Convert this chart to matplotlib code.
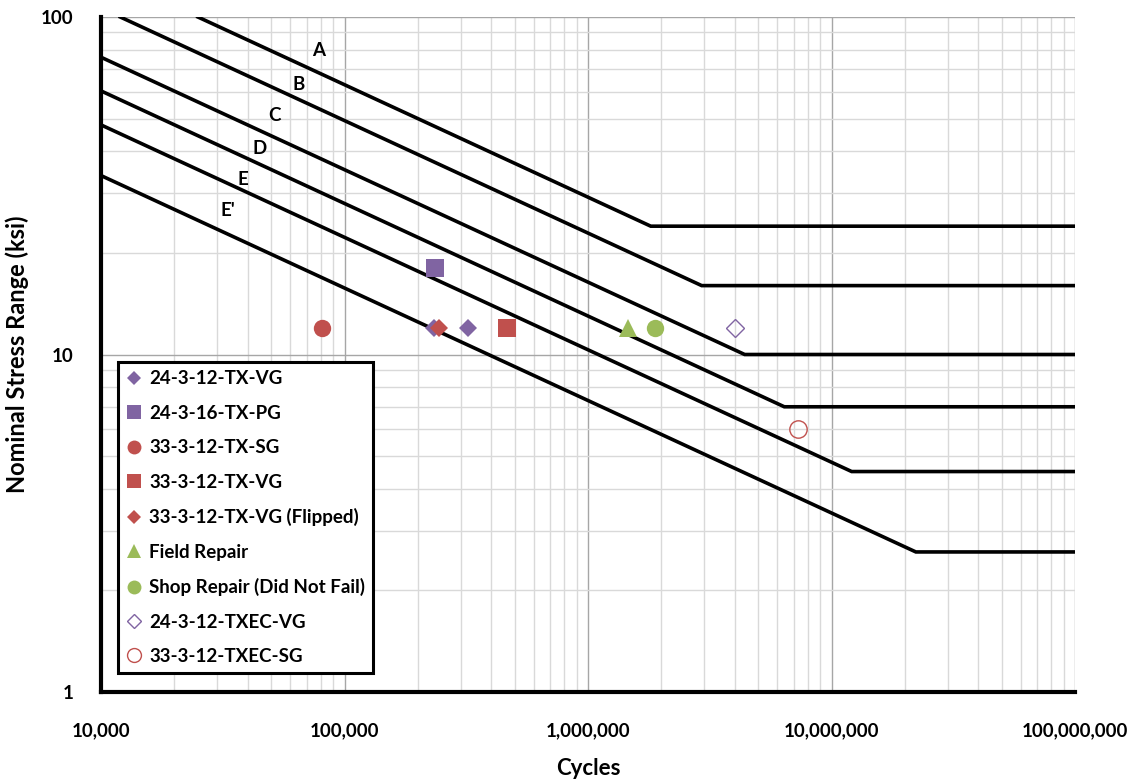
import matplotlib
matplotlib.use("Agg")
import matplotlib.pyplot as plt
from matplotlib.ticker import FuncFormatter, LogLocator, NullFormatter

plt.rcParams['font.family'] = ['Lato', 'DejaVu Sans']

# --- S-N detail category curves (knots) ---
categories = ["A", "B", "C", "D", "E", "E'"]
start_N = [25000, 12000, 10000, 10000, 10000, 10000]
start_S = [100, 100, 76.0, 60.4, 47.9, 33.9]
knee_N = [1.81e6, 2.93e6, 4.4e6, 6.4e6, 1.21e7, 2.22e7]
threshold_S = [24, 16, 10, 7, 4.5, 2.6]
end_N = 1e8

label_N = [78000, 64500, 51800, 45000, 38300, 33200]
label_S = [79.8, 63.3, 50.9, 40.9, 33.1, 26.8]

# --- Test data ---
series_names = ["24-3-12-TX-VG", "24-3-16-TX-PG", "33-3-12-TX-SG", "33-3-12-TX-VG",
                "33-3-12-TX-VG (Flipped)", "Field Repair", "Shop Repair (Did Not Fail)",
                "24-3-12-TXEC-VG", "33-3-12-TXEC-SG"]
series_N = [[233000, 321000], [235000], [80800], [465000], [244000], [1460000], [1885000],
            [4017000], [7285000]]
series_S = [[12, 12], [18], [12], [12], [12], [12], [12], [12], [6]]

purple = "#8064A2"
red = "#C0504D"
green = "#9BBB59"
styles = [
    dict(marker="D", color=purple, mfc=purple, ms=9.5, mew=0),
    dict(marker="s", color=purple, mfc=purple, ms=13, mew=0),
    dict(marker="o", color=red, mfc=red, ms=12.5, mew=0),
    dict(marker="s", color=red, mfc=red, ms=13, mew=0),
    dict(marker="D", color=red, mfc=red, ms=9.5, mew=0),
    dict(marker="^", color=green, mfc=green, ms=13, mew=0),
    dict(marker="o", color=green, mfc=green, ms=12.5, mew=0),
    dict(marker="D", color=purple, mfc="none", ms=9.5, mew=1.0),
    dict(marker="o", color=red, mfc="none", ms=12.5, mew=1.0),
]

fig = plt.figure(figsize=(11.36, 7.84), dpi=100)
ax = fig.add_axes([101/1136, 1 - 692/784, 974/1136, 675/784])
ax.set_xscale("log")
ax.set_yscale("log")
ax.set_xlim(1e4, 1e8)
ax.set_ylim(1, 100)

# grid
ax.xaxis.set_major_locator(LogLocator(base=10, numticks=10))
ax.xaxis.set_minor_locator(LogLocator(base=10, subs=range(2, 10), numticks=100))
ax.yaxis.set_major_locator(LogLocator(base=10, numticks=10))
ax.yaxis.set_minor_locator(LogLocator(base=10, subs=range(2, 10), numticks=100))
ax.xaxis.set_minor_formatter(NullFormatter())
ax.yaxis.set_minor_formatter(NullFormatter())
ax.grid(True, which="major", color="#a6a6a6", lw=1.0, zorder=0)
ax.grid(True, which="minor", color="#d9d9d9", lw=1.0, zorder=0)
ax.set_axisbelow(True)

ax.xaxis.set_major_formatter(FuncFormatter(lambda v, p: f"{int(round(v)):,}"))
ax.yaxis.set_major_formatter(FuncFormatter(lambda v, p: f"{int(round(v))}"))
ax.tick_params(which="both", length=0)
ax.tick_params(axis="x", which="major", pad=22, labelsize=13.5)
ax.tick_params(axis="y", which="major", pad=20, labelsize=13.5)
for lab in ax.get_xticklabels() + ax.get_yticklabels():
    lab.set_fontweight("bold")

for s in ["top", "right"]:
    ax.spines[s].set_visible(False)
for s in ["left", "bottom"]:
    ax.spines[s].set_linewidth(3.0)
    ax.spines[s].set_color("black")
    ax.spines[s].set_zorder(5)

# S-N curves
for i, c in enumerate(categories):
    xs = [start_N[i], knee_N[i], end_N]
    ys = [start_S[i], threshold_S[i], threshold_S[i]]
    ax.plot(xs, ys, color="black", lw=2.6, solid_joinstyle="miter", zorder=3, clip_on=True)
    ax.text(label_N[i], label_S[i], c, fontsize=13.5, fontweight="bold",
            ha="center", va="center", zorder=4)

# data series
handles = []
for name, xs, ys, st in zip(series_names, series_N, series_S, styles):
    h, = ax.plot(xs, ys, linestyle="none", label=name, zorder=6, **st)
    handles.append(h)

leg = ax.legend(handles=handles, loc="upper left", bbox_to_anchor=(0.0175, 0.489),
                frameon=True, fancybox=False, edgecolor="black", framealpha=1,
                markerscale=0.8, handlelength=0.8, handletextpad=0.4,
                labelspacing=0.93, borderpad=0.45, borderaxespad=0,
                prop=dict(family=["Lato", "DejaVu Sans"], weight="bold", size=13.5))
leg.get_frame().set_linewidth(2.2)
leg.set_zorder(10)

ax.set_xlabel("Cycles", fontsize=16, fontweight="bold", labelpad=13)
ax.set_ylabel("Nominal Stress Range (ksi)", fontsize=17, fontweight="bold", labelpad=8)

fig.savefig("out.png", dpi=100)
